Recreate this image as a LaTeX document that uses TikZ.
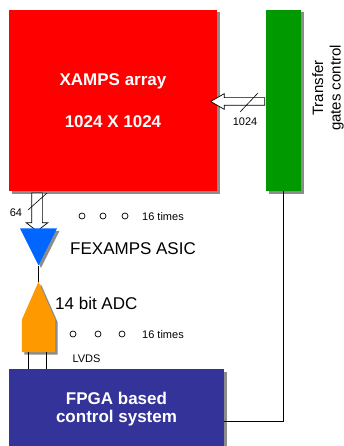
\documentclass[tikz,border=0pt]{standalone}
\usepackage{fontspec}
\setmainfont{Liberation Sans}
\usetikzlibrary{shapes.geometric,shapes.arrows,shadows,calc}
\definecolor{gatesgreen}{HTML}{009900}
\definecolor{asicblue}{HTML}{0066FF}
\definecolor{adcorange}{HTML}{FF9900}
\definecolor{fpgablue}{HTML}{333399}

\begin{document}
\begin{tikzpicture}[x=1pt, y=-1pt,
        shadowed/.style={general shadow={shadow xshift=2.5pt, shadow yshift=-2.5pt, fill=black!45}},
        block/.style={rectangle, shadowed, inner sep=0pt, text=white, align=center, font=\fontsize{17}{18}\selectfont\bfseries},
        bus/.style={single arrow, draw, fill=white, line width=0.7pt, single arrow head indent=0pt},
        tick/.style={line width=0.6pt},
        buslabel/.style={inner sep=1pt, font=\fontsize{11}{13}\selectfont},
        dot/.style={circle, draw, line width=0.7pt, inner sep=0pt, minimum size=6pt},
        wire/.style={line width=0.8pt}
    ]
        \useasboundingbox (0,0) rectangle (344,446);
        \clip (0,0) rectangle (344,446);

        % Pixel array and gate control
        \node[block, fill=red, minimum width=208pt, minimum height=181pt] (array) at (113,100.5) {XAMPS array\\[24pt]1024 X 1024};
        \node[block, fill=gatesgreen, minimum width=35pt, minimum height=181pt] (gates) at (283.5,100.5) {};
        \node[rotate=90, align=center, font=\fontsize{15}{17.5}\selectfont] (gateslabel) at (328,88) {Transfer\\gates control};

        % Buses
        \node[bus, inner sep=3.5pt, minimum height=54pt, minimum width=15pt, single arrow head extend=4pt, single arrow tip angle=60, shape border rotate=180] (busin) at (241,101.5) {};
        \draw[tick] ($(busin.center)+(-1,10.5)$) -- ++(18,-19);
        \node[buslabel] (n1024) at ($(busin.center)+(4,20.5)$) {1024};

        \node[bus, inner sep=5pt, minimum height=38pt, minimum width=21pt, single arrow head extend=5.5pt, single arrow tip angle=105, shape border rotate=270] (busout) at (37,210) {};
        \draw[tick] ($(busout.center)+(-9,0)$) -- ++(19,-17);
        \node[buslabel] (n64) at ($(busout.center)+(-21,3)$) {64};

        % Front end chain
        \node[isosceles triangle, isosceles triangle stretches, shape border rotate=270, minimum width=37pt, minimum height=37pt, inner sep=0pt, fill=asicblue, shadowed, anchor=apex] (asic) at (38.5,266) {};
        \node[anchor=west, inner sep=0pt, font=\fontsize{17}{20}\selectfont] (asiclabel) at (70,249) {FEXAMPS ASIC};

        \node[rectangle, minimum width=33pt, minimum height=32pt, inner sep=0pt] (adc) at (38.5,336) {};
        \fill[adcorange, shadowed] (adc.south west) -- (adc.north west) -- ($(adc.north)+(0,-38)$) coordinate (adcapex) -- (adc.north east) -- (adc.south east) -- cycle;
        \node[anchor=west, inner sep=0pt, font=\fontsize{17}{20}\selectfont] (adclabel) at (55,303) {14 bit ADC};
        \draw[wire] (asic.apex) -- (adcapex);

        % Channel repeat marks
        \foreach \x [count=\i] in {82,103,125} \node[dot] (dota\i) at (\x,216) {};
        \node[buslabel, anchor=west] (timesa) at (141,216.5) {16 times};
        \foreach \x [count=\i] in {73,98,122} \node[dot] (dotb\i) at (\x,334) {};
        \node[buslabel, anchor=west] (timesb) at (141,335) {16 times};

        % FPGA
        \node[block, fill=fpgablue, minimum width=215pt, minimum height=82pt, anchor=north] (fpga) at (116.5,369) {\raisebox{5pt}{\begin{tabular}{@{}c@{}}FPGA based\\control system\end{tabular}}};
        \node[buslabel] (lvds) at (86.5,359) {LVDS};
        \coordinate (lvdsa) at ($(adc.south)+(-10.5,0)$);
        \coordinate (lvdsb) at ($(adc.south)+(7.5,0)$);
        \draw[wire] (lvdsa) -- (lvdsa |- fpga.north);
        \draw[wire] (lvdsb) -- (lvdsb |- fpga.north);

        \coordinate (fpgain) at ($(fpga.north east)+(0,52)$);
        \draw[wire] (gates.south) |- (fpgain);
    \end{tikzpicture}
\end{document}
